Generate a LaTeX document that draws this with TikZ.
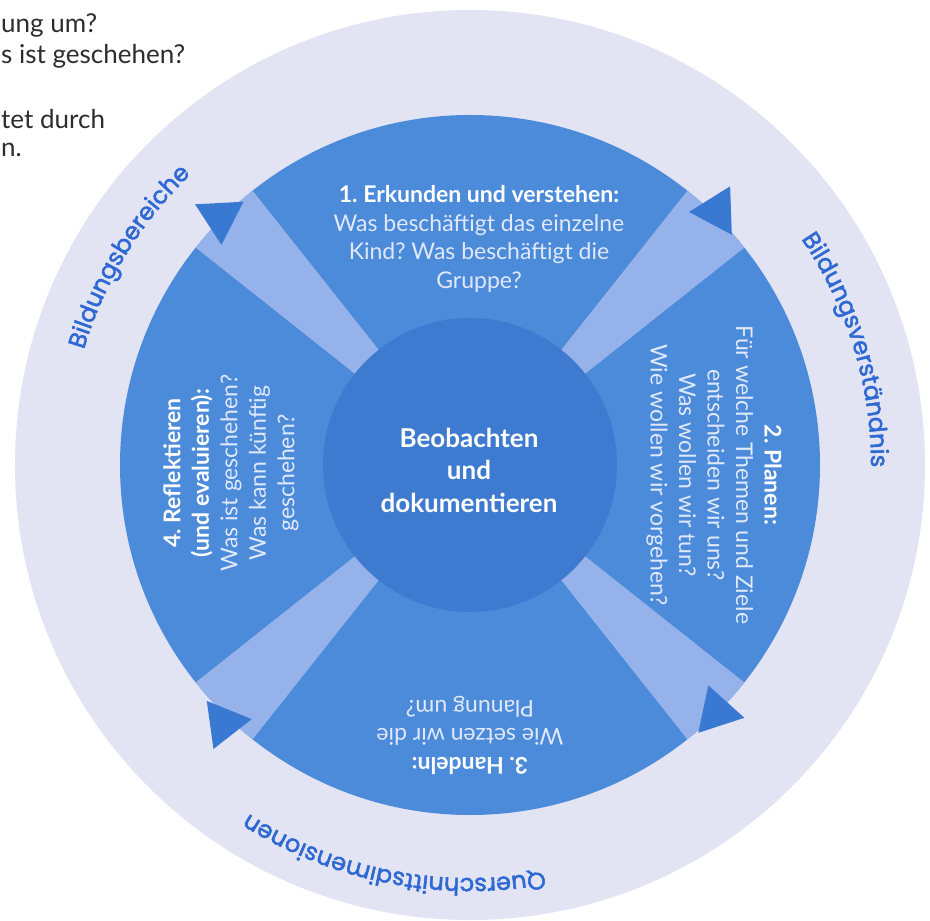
\documentclass[tikz,border=0pt]{standalone}
\usepackage{fontspec}
\setmainfont{Lato}
\newfontfamily\ringfont{Poppins}[FakeBold=2]
\newcommand\ringtype{\ringfont\fontsize{24}{24}\selectfont}
\usetikzlibrary{decorations.text}
\frenchspacing

\definecolor{ringbg}{RGB}{226,228,244}
\definecolor{sector}{RGB}{76,138,218}
\definecolor{core}{RGB}{62,122,207}
\definecolor{band}{RGB}{150,178,235}
\definecolor{tip}{RGB}{58,121,210}
\definecolor{ringtext}{RGB}{46,104,210}
\definecolor{pale}{RGB}{224,233,250}
\definecolor{pagetext}{RGB}{45,45,48}

\begin{document}
\begin{tikzpicture}[x=1pt,y=1pt,
  phase/.style={text=pale, align=center, font=\fontsize{23}{28.5}\selectfont},
  hub/.style={text=white, align=center, font=\bfseries\fontsize{26}{32.5}\selectfont},
  cut/.style={text=pagetext, anchor=west, inner sep=0pt, font=\fontsize{26}{30}\selectfont},
  ringlabel/.style={decorate, decoration={text along path, text align=center,
    text color=ringtext, text={|\ringtype|#1}}}]
  \fill[white] (-470,-456) rectangle (460,465);
  \useasboundingbox (-470,-456) rectangle (460,465);
  \fill[ringbg] (0,0) circle[radius=455];
  \fill[sector] (0,0) circle[radius=350];
  \foreach \a in {45,135,225,315}
    \fill[band] (0,0) -- (\a-6.6:350) arc[start angle=\a-6.6, end angle=\a+6.6, radius=350] -- cycle;
  \foreach \cx/\cy/\r in {247/254/62, -250/248/33, -246/-258/8, 247/-247/-12}
    \fill[tip, shift={(\cx,\cy)}, rotate=\r] (0:28) -- (120:28) -- (240:28) -- cycle;
  \fill[core] (0,0) circle[radius=147];

  \path[ringlabel=Bildungsbereiche] (178.6:403) arc[start angle=178.6, end angle=118.6, radius=403];
  \path[ringlabel=Bildungsverständnis] (47:401) arc[start angle=47, end angle=-13, radius=401];
  \path[ringlabel=Querschnittsdimensionen] (-63:413) arc[start angle=-63, end angle=-139, radius=413];

  \node[phase] (erkunden) at (9,226) {\textcolor{white}{\bfseries 1. Erkunden und verstehen:}\\Was beschäftigt das einzelne\\Kind? Was beschäftigt die\\Gruppe?};
  \node[phase, rotate=-90] (planen) at (244,-10) {\textcolor{white}{\bfseries 2. Planen:}\\Für welche Themen und Ziele\\entscheiden wir uns?\\Was wollen wir tun?\\Wie wollen wir vorgehen?};
  \node[phase, rotate=180] (handeln) at (0,-270) {\textcolor{white}{\bfseries 3. Handeln:}\\Wie setzen wir die\\Planung um?};
  \node[phase, rotate=90] (reflektieren) at (-239,-8) {\textcolor{white}{\bfseries 4. Reflektieren}\\\textcolor{white}{\bfseries (und evaluieren):}\\Was ist geschehen?\\Was kann künftig\\geschehen?};
  \node[hub] (beobachten) at (-1,-5) {Beobachten\\und\\dokumentieren};

  \node[cut] (zeile1) at (-469,440) {ung um?};
  \node[cut] (zeile2) at (-469,409) {s ist geschehen?};
  \node[cut] (zeile3) at (-469,346) {tet durch};
  \node[cut] (zeile4) at (-469,315) {n.};
\end{tikzpicture}
\end{document}
